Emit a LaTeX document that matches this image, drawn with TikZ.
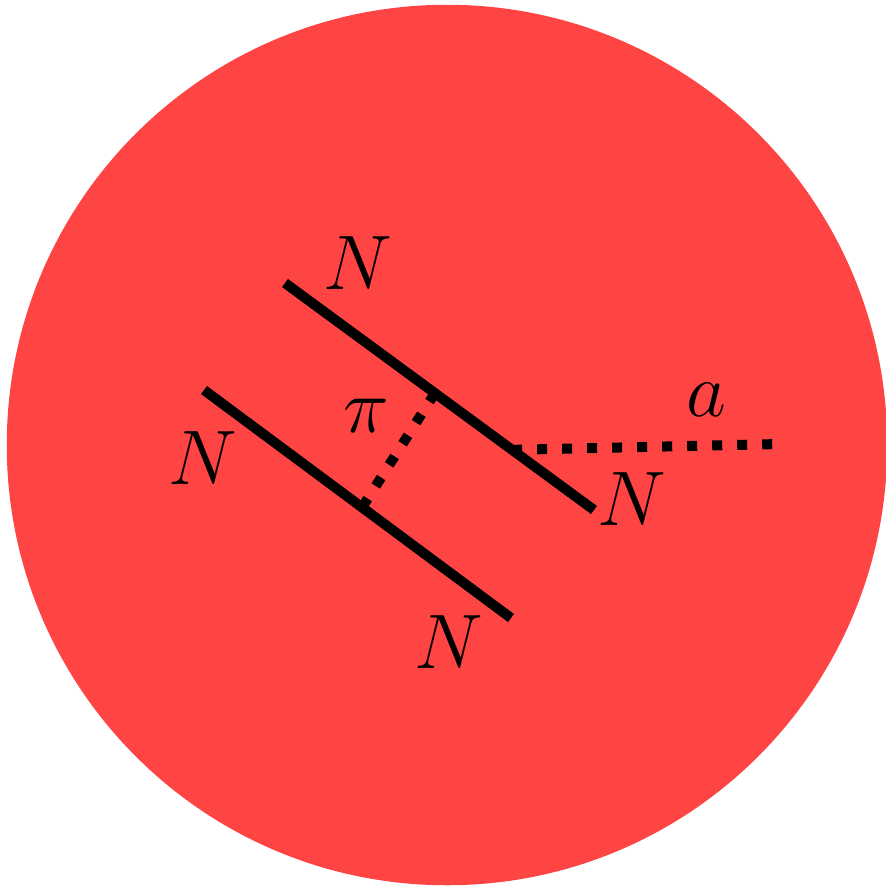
\documentclass[tikz,border=0pt]{standalone}
\usepackage{tikz}
\usetikzlibrary{positioning, calc}
\definecolor{blobred}{HTML}{FF4444}

\begin{document}
\begin{tikzpicture}[
    x=0.01cm, y=-0.01cm,
    nucleon/.style={line width=0.1cm, line cap=butt},
    meson/.style={line width=0.1cm, dash pattern=on 0.1cm off 0.15cm},
    lbl/.style={font=\huge, inner sep=0pt, scale=1.06, transform shape},
]
\useasboundingbox (0,0) rectangle (886,887);

% === NUCLEUS ===
\fill[blobred] (447,445) circle [radius=4.4cm];

% === NUCLEON LINES ===
\coordinate (up-in)  at (285,283);
\coordinate (up-out) at (594,510);
\coordinate (lo-in)  at (204,390);
\coordinate (lo-out) at (511,618);
\coordinate (pi-up) at ($(up-in)!0.485!(up-out)$);
\coordinate (pi-lo) at ($(lo-in)!0.515!(lo-out)$);
\coordinate (a-vx)  at ($(up-in)!0.735!(up-out)$);
\coordinate (a-end) at (780,444);

\draw[nucleon] (up-in) -- (up-out);
\draw[nucleon] (lo-in) -- (lo-out);

% === EXCHANGE ===
\draw[meson] (pi-up) -- (pi-lo);
\draw[meson] (a-vx) -- (a-end);

% === LABELS ===
\node[lbl] (n-up-in)  at (358,263) {$N$};
\node[lbl] (n-lo-in)  at (203,458) {$N$};
\node[lbl] (n-up-out) at (632,499) {$N$};
\node[lbl] (n-lo-out) at (449,642) {$N$};
\node[lbl] (pi-lbl)   at (366,416) {$\pi$};
\node[lbl] (a-lbl)    at (706,400) {$a$};

\end{tikzpicture}
\end{document}
